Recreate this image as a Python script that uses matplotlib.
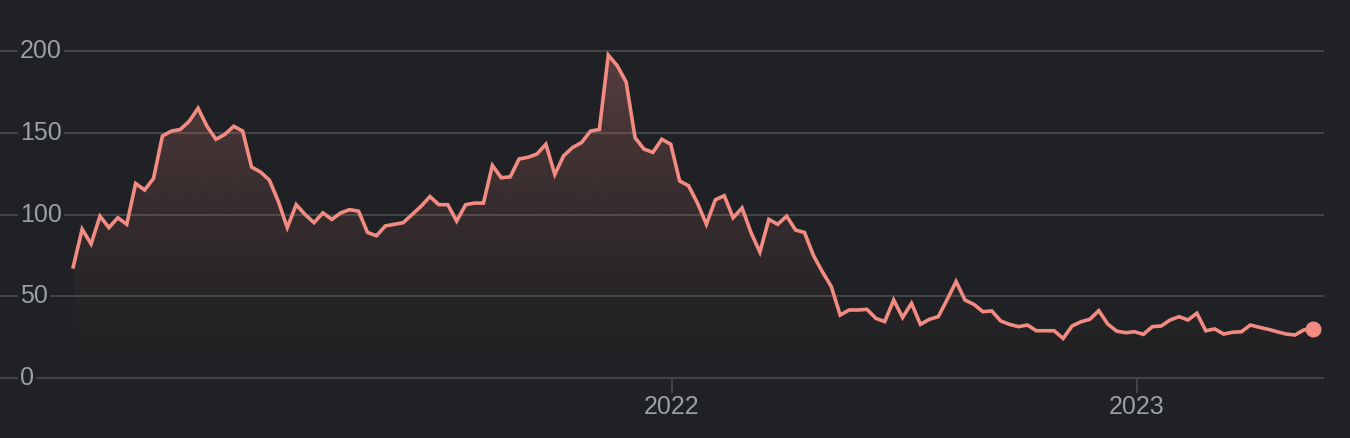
import numpy as np
import pandas as pd
import matplotlib
matplotlib.use("Agg")
import matplotlib.pyplot as plt
import matplotlib.dates as mdates
from matplotlib.colors import to_rgb

# Weekly values
start_date = "2020-09-18"
values = [
    68, 91, 82, 99, 92, 98, 94, 119, 115, 122,
    148, 151, 152, 157, 165, 154, 146, 149, 154, 151,
    129, 126, 121, 108, 92, 106, 100, 95, 101, 97,
    101, 103, 102, 89, 87, 93, 94, 95, 100, 105,
    111, 106, 106, 96, 106, 107, 107, 130, 122.5, 123,
    134, 135, 137, 143, 124.5, 136, 141, 144, 151, 152,
    197.5, 191, 181, 147, 140, 138, 146, 143, 120.5, 117.6,
    107, 94, 109, 111.5, 98, 104, 89, 77, 97, 94,
    99, 90.5, 89, 75, 65, 56, 38.5, 41.6, 41.6, 42,
    36.5, 34.5, 47.7, 37, 45.7, 32.8, 35.9, 37.5, 48, 59,
    47.7, 45, 40.6, 41, 34.9, 32.8, 31.4, 32.4, 28.9, 28.9,
    28.9, 24.2, 31.8, 34.4, 35.9, 41.2, 33, 28.7, 27.7, 28.3,
    26.7, 31.4, 31.8, 35.5, 37.5, 35.5, 39.6, 28.9, 30, 26.9,
    28, 28.3, 32.4, 31, 29.8, 28.3, 26.9, 26.3, 29.4, 30,
]
dates = pd.date_range(start_date, periods=len(values), freq="7D")

y_ticks = [0, 50, 100, 150, 200]
x_tick_dates = ["2022-01-01", "2023-01-01"]
x_tick_labels = ["2022", "2023"]

# Colours :
bg = "#202124"
grid_col = "#484b4f"
text_col = "#9aa0a6"
line_col = "#f28b82"

plt.rcParams["font.family"] = ["Liberation Sans", "DejaVu Sans"]

W, H = 1350, 438
fig = plt.figure(figsize=(W / 100, H / 100), dpi=100, facecolor=bg)
# axes: x from pixel 0 to 1323, y=0 at pixel 378, y=200 at pixel 51
ax = fig.add_axes([0, (H - 378) / H, 1323 / W, (378 - 51) / H])
ax.set_facecolor(bg)

x = mdates.date2num(dates)
y = np.array(values)

# x scale : 2022 at px 672, 2023 at px 1137
t22 = mdates.date2num(pd.Timestamp("2022-01-01"))
t23 = mdates.date2num(pd.Timestamp("2023-01-01"))
px_per_day = (1137 - 672) / (t23 - t22)
xmin = t22 - 672 / px_per_day
xmax = t22 + (1323 - 672) / px_per_day

# Gradient fill under the line (fades out towards zero)
poly = ax.fill_between(x, y, 0, color="none", lw=0)
rgb = to_rgb(line_col)
grad = np.zeros((256, 1, 4))
grad[..., 0], grad[..., 1], grad[..., 2] = rgb
grad[..., 3] = np.linspace(0, 1, 256).reshape(-1, 1) ** 1.4 * 0.27
im = ax.imshow(grad, extent=[x[0], x[-1], 0, 200], origin="lower",
               aspect="auto", zorder=2, interpolation="bilinear")
im.set_clip_path(poly.get_paths()[0], transform=ax.transData)

ax.plot(x, y, color=line_col, lw=2.6, zorder=3, solid_joinstyle="miter")
ax.plot(x[-1], y[-1], "o", color=line_col, ms=10.5, zorder=4)

ax.set_xlim(xmin, xmax)
ax.set_ylim(0, 200)

# Grid lines + y labels drawn inside the axes
for v in y_ticks:
    ax.axhline(v, color=grid_col, lw=1.2, zorder=1, clip_on=False)
    ax.text(20 / 1323, v, str(v), transform=ax.get_yaxis_transform(),
            ha="left", va="center", fontsize=18, color=text_col, zorder=5,
            bbox=dict(boxstyle="square,pad=0.08", fc=bg, ec="none"))

ax.set_yticks([])
ax.set_xticks([mdates.date2num(pd.Timestamp(d)) for d in x_tick_dates])
ax.set_xticklabels(x_tick_labels)
ax.tick_params(axis="x", length=11, width=1.2, color=grid_col, labelcolor=text_col,
               labelsize=18, pad=1)
for s in ax.spines.values():
    s.set_visible(False)

fig.savefig("out.png", dpi=100, facecolor=bg)
